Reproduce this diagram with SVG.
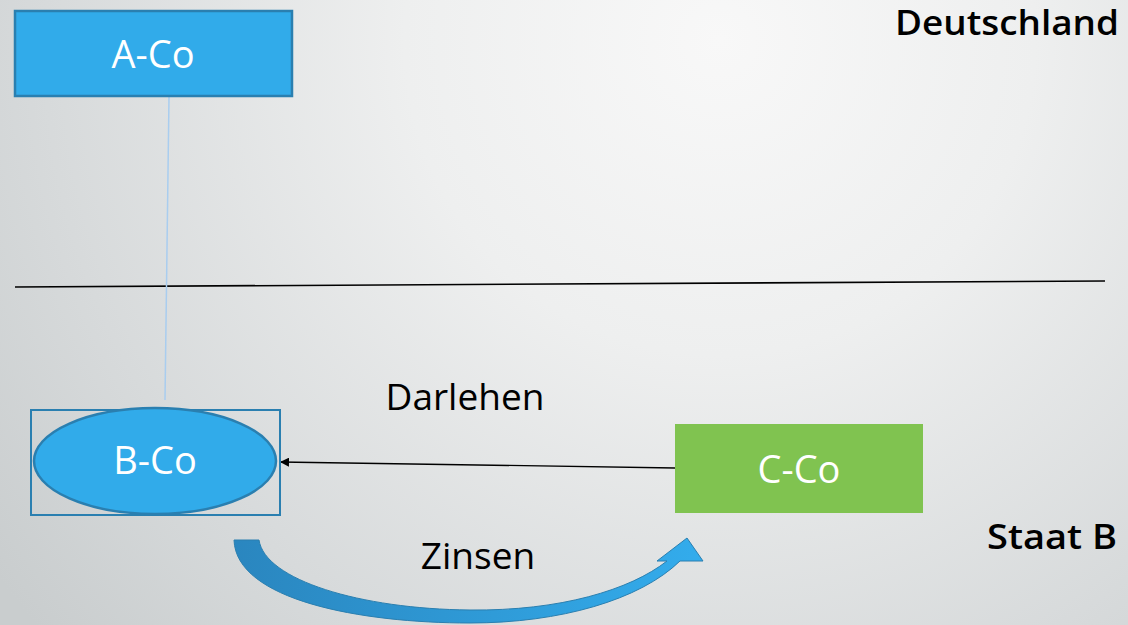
<svg xmlns="http://www.w3.org/2000/svg" width="1128" height="625" viewBox="0 0 1128 625">
<defs>
<radialGradient id="bg" cx="720" cy="40" r="900" gradientUnits="userSpaceOnUse">
<stop offset="0" stop-color="#f8f8f8"/>
<stop offset="0.35" stop-color="#eeefef"/>
<stop offset="0.75" stop-color="#d7dadb"/>
<stop offset="1" stop-color="#c9cdce"/>
</radialGradient>
<linearGradient id="arr" x1="234" y1="0" x2="703" y2="0" gradientUnits="userSpaceOnUse">
<stop offset="0" stop-color="#2a86bf"/>
<stop offset="1" stop-color="#33acec"/>
</linearGradient>
<marker id="ah" viewBox="0 0 10 10" refX="10" refY="5" markerWidth="9" markerHeight="9" markerUnits="userSpaceOnUse" orient="auto">
<path d="M0,0 L10,5 L0,10 Z" fill="#000"/>
</marker>
<style>
.box{fill:#31abea;stroke:#2a7fb0;stroke-width:2.5}
.wt{font-family:"Open Sans","Noto Sans",sans-serif;font-size:38px;fill:#fff;text-anchor:middle}
.bt{font-family:"Open Sans","Noto Sans",sans-serif;font-size:37px;fill:#000;text-anchor:middle}
.hb{font-family:"Open Sans","Noto Sans",sans-serif;font-size:34px;font-weight:600;fill:#000;text-anchor:start}
</style>
</defs>
<rect width="1128" height="625" fill="url(#bg)"/>
<line x1="15" y1="287" x2="1105" y2="281" stroke="#000" stroke-width="1.6"/>
<g id="connectors">
<line x1="169" y1="97" x2="165" y2="400" stroke="#a9cdef" stroke-width="1.5"/>
<line x1="675" y1="468" x2="280" y2="462" stroke="#000" stroke-width="1.3" marker-end="url(#ah)"/>
<path d="M234,540 L259,540 C265,580 360,609 470,610 C560,611 630,590 667,561 L657,561 L687,538 L703,561 L680,561 C640,600 560,623 470,623 C360,623 236,600 234,540 Z" fill="url(#arr)" stroke="#2a7fb0" stroke-width="1"/>
</g>
<g id="a-co">
<rect class="box" x="15" y="11" width="277" height="85"/>
<text class="wt" x="153" y="68">A-Co</text>
</g>
<g id="b-co">
<rect x="31" y="410" width="249" height="105" fill="none" stroke="#2a7fb0" stroke-width="2"/>
<ellipse class="box" cx="155" cy="461" rx="121" ry="53"/>
<text class="wt" x="155" y="474">B-Co</text>
</g>
<g id="c-co">
<rect x="675" y="424" width="248" height="89" fill="#80c350"/>
<text class="wt" x="799" y="483">C-Co</text>
</g>
<text class="bt" x="465" y="410">Darlehen</text>
<text class="bt" x="478" y="569">Zinsen</text>
<text class="hb" x="895" y="35" textLength="224" lengthAdjust="spacingAndGlyphs">Deutschland</text>
<text class="hb" x="987" y="549" textLength="130" lengthAdjust="spacingAndGlyphs">Staat B</text>
</svg>
